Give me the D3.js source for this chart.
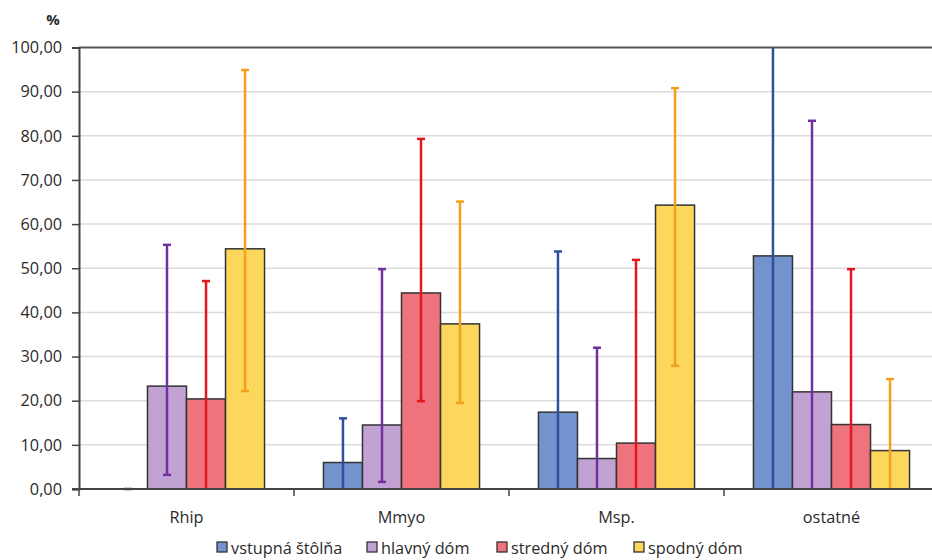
<!DOCTYPE html>
<html><head><meta charset="utf-8">
<script src="https://cdn.jsdelivr.net/npm/d3@7"></script>
<style>
html,body{margin:0;padding:0;background:#fff;}
svg{display:block;font-family:"Open Sans",sans-serif;}
</style></head>
<body><svg id="c" width="932" height="560"></svg>
<script>
const categories = ["Rhip", "Mmyo", "Msp.", "ostatné"];
const seriesNames = ["vstupná štôlňa", "hlavný dóm", "stredný dóm", "spodný dóm"];
const vstupna = [0, 6.0, 17.4, 52.8];
const hlavny = [23.3, 14.5, 6.9, 22.0];
const stredny = [20.4, 44.4, 10.4, 14.6];
const spodny = [54.4, 37.4, 64.3, 8.7];
const vstupnaLow = [0, 0, 0, 0];
const vstupnaHigh = [0, 16.0, 53.8, 100];
const hlavnyLow = [3.2, 1.6, 0, 0];
const hlavnyHigh = [55.3, 49.8, 32.0, 83.4];
const strednyLow = [0, 19.9, 0, 0];
const strednyHigh = [47.1, 79.3, 51.9, 49.8];
const spodnyLow = [22.2, 19.5, 27.9, 0];
const spodnyHigh = [94.9, 65.1, 90.8, 24.9];
const yTicks = [0, 10, 20, 30, 40, 50, 60, 70, 80, 90, 100];

const fills = ["#7393cf", "#c2a2d2", "#ef737d", "#fdd65c"];
const errColors = ["#2e4f9c", "#7030a0", "#e3161c", "#f2a11c"];

const values = [vstupna, hlavny, stredny, spodny];
const lows = [vstupnaLow, hlavnyLow, strednyLow, spodnyLow];
const highs = [vstupnaHigh, hlavnyHigh, strednyHigh, spodnyHigh];

(function(){
const svg = d3.select("#c");
const pL = 79, pR = 939, pT = 47.5, pB = 489;
const fs = 16.3;

const x = d3.scaleBand().domain(categories).range([pL, pR]).paddingInner(0).paddingOuter(0);
const groupW = x.bandwidth() * 0.726;
const xs = d3.scaleBand().domain(seriesNames).range([0, groupW]).padding(0);
const y = d3.scaleLinear().domain([0, 100]).range([pB, pT]);

// gridlines
svg.append("g").selectAll("line").data(yTicks.filter(d => d > 0 && d < 100)).join("line")
  .attr("x1", pL).attr("x2", 932).attr("y1", d => y(d)).attr("y2", d => y(d))
  .attr("stroke", "#dcdcdc").attr("stroke-width", 1.5);
// top border
svg.append("line").attr("x1", pL).attr("x2", 932).attr("y1", y(100)).attr("y2", y(100))
  .attr("stroke", "#555").attr("stroke-width", 2);

// bars
const g = svg.append("g");
categories.forEach((c, ci) => {
  const gx = x(c) + (x.bandwidth() - groupW) / 2;
  seriesNames.forEach((s, si) => {
    const v = values[si][ci];
    if (v > 0) {
      g.append("rect").attr("x", gx + xs(s)).attr("y", y(v))
        .attr("width", xs.bandwidth()).attr("height", y(0) - y(v))
        .attr("fill", fills[si]).attr("stroke", "#333").attr("stroke-width", 1.5);
    }
  });
});
// error bars
categories.forEach((c, ci) => {
  const gx = x(c) + (x.bandwidth() - groupW) / 2;
  seriesNames.forEach((s, si) => {
    const cx = gx + xs(s) + xs.bandwidth() / 2;
    const lo = lows[si][ci], hi = highs[si][ci];
    const col = si === 0 && hi === 0 ? "#8a8fa8" : errColors[si];
    if (hi > lo) {
      g.append("line").attr("x1", cx).attr("x2", cx).attr("y1", y(lo)).attr("y2", y(hi))
        .attr("stroke", col).attr("stroke-width", 2.5);
    }
    const caps = [];
    if (hi < 100) caps.push(hi);
    if (lo > 0) caps.push(lo);
    if (hi === 0) caps.push(0);
    caps.forEach(v => {
      g.append("line").attr("x1", cx - 4).attr("x2", cx + 4).attr("y1", y(v)).attr("y2", y(v))
        .attr("stroke", col).attr("stroke-width", 2.5);
    });
  });
});

// y axis
const yAxis = d3.axisLeft(y).tickValues(yTicks).tickSize(7).tickPadding(10)
  .tickFormat(d => d3.format(".2f")(d).replace(".", ","));
const ya = svg.append("g").attr("transform", `translate(${pL},0)`).call(yAxis);
ya.select(".domain").attr("stroke", "#444").attr("stroke-width", 2);
ya.selectAll(".tick line").attr("stroke", "#444").attr("stroke-width", 1.5);
ya.selectAll(".tick text").attr("font-size", fs).attr("fill", "#2b2b2b").attr("font-family", "Open Sans");

// x axis
const xa = svg.append("g").attr("transform", `translate(0,${pB})`);
xa.append("line").attr("x1", pL - 7).attr("x2", 932).attr("y1", 0).attr("y2", 0)
  .attr("stroke", "#444").attr("stroke-width", 2);
const bounds = categories.map(c => x(c)).concat([pR]);
xa.selectAll(".tk").data(bounds).join("line").attr("class", "tk")
  .attr("x1", d => d).attr("x2", d => d).attr("y1", 0).attr("y2", 7)
  .attr("stroke", "#444").attr("stroke-width", 1.5);
xa.selectAll(".lbl").data(categories).join("text").attr("class", "lbl")
  .attr("x", d => x(d) + x.bandwidth() / 2).attr("y", 34)
  .attr("text-anchor", "middle").attr("font-size", fs).attr("fill", "#2b2b2b").text(d => d);

// % label
svg.append("text").attr("x", 53).attr("y", 25).attr("text-anchor", "middle")
  .attr("font-size", 15).attr("font-weight", "bold").attr("fill", "#2b2b2b").text("%");

// legend
const legX = [217, 367, 497, 634];
const leg = svg.append("g");
seriesNames.forEach((s, i) => {
  leg.append("rect").attr("x", legX[i]).attr("y", 542).attr("width", 10).attr("height", 10)
    .attr("fill", fills[i]).attr("stroke", "#333").attr("stroke-width", 1.3);
  leg.append("text").attr("x", legX[i] + 14).attr("y", 553.5).attr("font-size", fs)
    .attr("fill", "#2b2b2b").text(s);
});
})();
</script></body></html>
